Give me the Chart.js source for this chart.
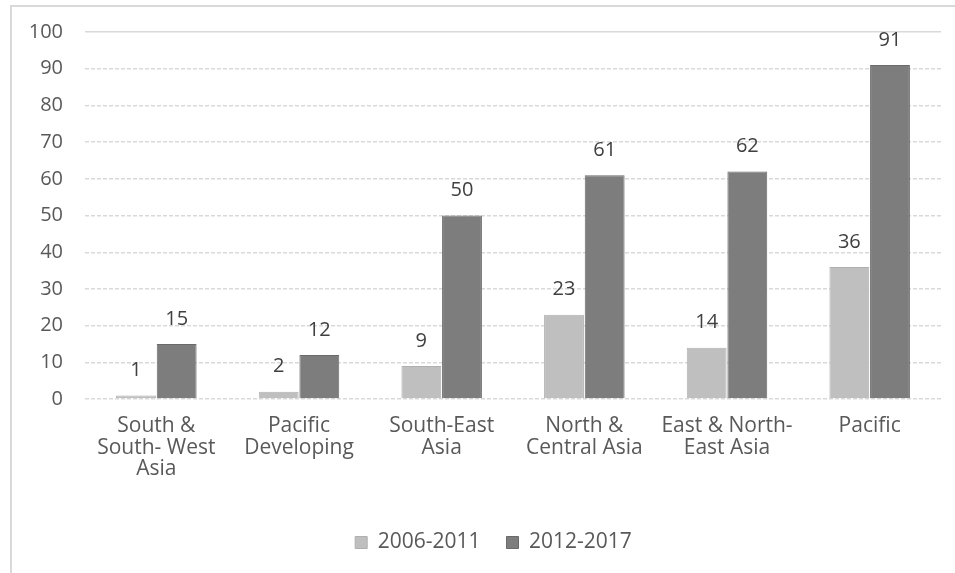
<!DOCTYPE html>
<html>
<head>
<meta charset="utf-8">
<script src="https://cdn.jsdelivr.net/npm/chart.js@4"></script>
<style>
  html, body { margin: 0; padding: 0; background: #fff; }
  #wrap {
    position: absolute; left: 10px; top: 5px;
    width: 943px; height: 566px;
    border-top: 2px solid #d9d9d9; border-left: 2px solid #d9d9d9;
  }
</style>
</head>
<body>
<div id="wrap"><canvas id="chart"></canvas></div>
<script>
const categories = [
    ['South &', 'South- West', 'Asia'],
    ['Pacific', 'Developing'],
    ['South-East', 'Asia'],
    ['North &', 'Central Asia'],
    ['East & North-', 'East Asia'],
    'Pacific'
];
const series2006 = [1, 2, 9, 23, 14, 36];
const series2012 = [15, 12, 50, 61, 62, 91];
const yTicks = [0, 10, 20, 30, 40, 50, 60, 70, 80, 90, 100];

const FONT = "'Open Sans', sans-serif";

// values written above each bar
const barLabels = {
    id: 'barLabels',
    afterDatasetsDraw(chart) {
        const ctx = chart.ctx;
        ctx.save();
        ctx.font = '20px ' + FONT;
        ctx.fillStyle = '#404040';
        ctx.textAlign = 'center';
        ctx.textBaseline = 'middle';
        chart.data.datasets.forEach((ds, i) => {
            chart.getDatasetMeta(i).data.forEach((bar, j) => {
                ctx.fillText(ds.data[j], bar.x, bar.y - 25);
            });
        });
        ctx.restore();
    }
};

// legend sits a little right of the canvas centre in the original
const legendShift = {
    id: 'legendShift',
    afterLayout(chart) {
        chart.legend.left += 17;
        chart.legend.right += 17;
    }
};

Chart.defaults.font.family = FONT;
Chart.defaults.color = '#595959';

new Chart(document.getElementById('chart'), {
    type: 'bar',
    data: {
        labels: categories,
        datasets: [{
            label: '2006-2011',
            data: series2006,
            backgroundColor: '#bfbfbf',
            borderColor: '#b0b0b0',
            borderWidth: 1
        }, {
            label: '2012-2017',
            data: series2012,
            backgroundColor: '#7d7d7d',
            borderColor: '#6a6a6a',
            borderWidth: 1
        }]
    },
    options: {
        responsive: true,
        maintainAspectRatio: false,
        animation: false,
        categoryPercentage: 0.57,
        barPercentage: 0.98,
        layout: { padding: { left: 0, right: 14, top: 0, bottom: 10 } },
        plugins: {
            legend: {
                position: 'bottom',
                labels: {
                    boxWidth: 12,
                    boxHeight: 12,
                    padding: 26,
                    color: '#595959',
                    font: { size: 21 }
                }
            },
            tooltip: { enabled: false }
        },
        scales: {
            x: {
                grid: { display: false },
                border: { display: false },
                ticks: {
                    font: { size: 21, lineHeight: 1.03 },
                    padding: 8,
                    maxRotation: 0,
                    autoSkip: false
                },
                afterFit: axis => { axis.height += 18; }
            },
            y: {
                min: 0,
                max: 100,
                afterBuildTicks: axis => { axis.ticks = yTicks.map(v => ({ value: v })); },
                afterFit: axis => { axis.width = 73; axis.paddingTop = 25; },
                grid: { color: '#d9d9d9', lineWidth: 1.5, drawTicks: false },
                border: {
                    display: false,
                    dash: c => (c.tick && c.tick.value === 100) ? [] : [4, 2]
                },
                ticks: { font: { size: 20 }, padding: 22 }
            }
        }
    },
    plugins: [barLabels, legendShift]
});
</script>
</body>
</html>
